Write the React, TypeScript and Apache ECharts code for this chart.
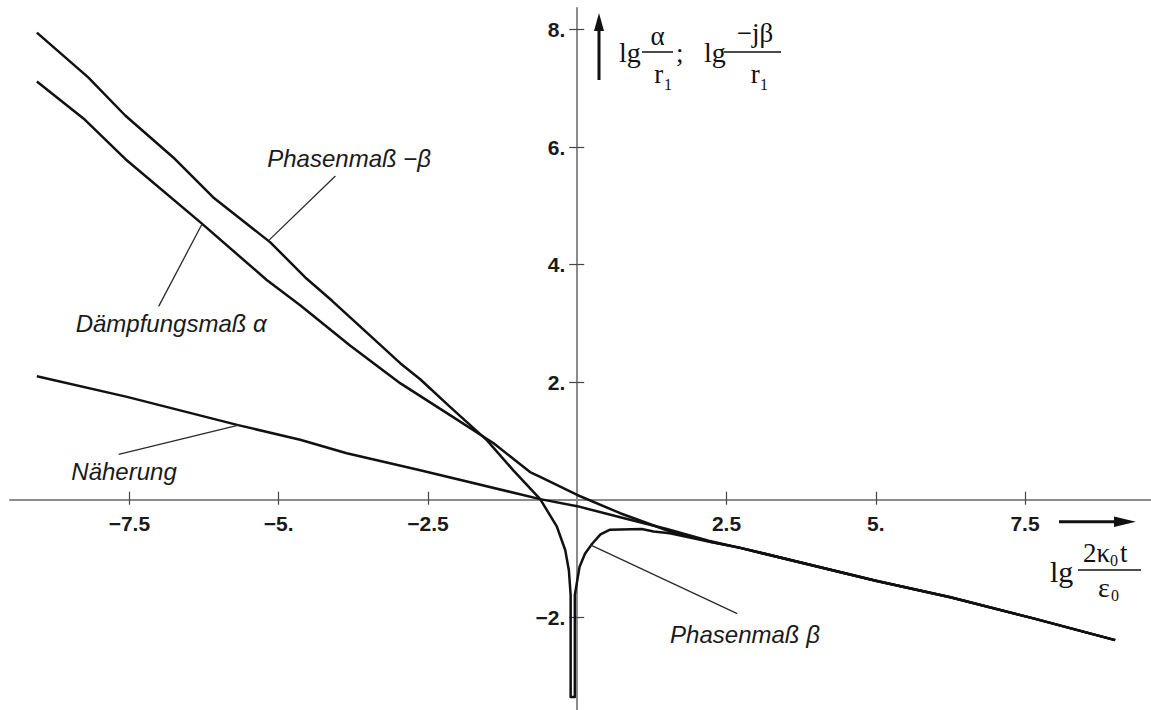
import React, { useEffect, useRef } from "react";
import * as echarts from "echarts";

// ---- axis ranges and ticks ----
const X_MIN = -9.5;
const X_MAX = 9.61;
const Y_MIN = -3.58;
const Y_MAX = 8.37;
const xTickValues = [-7.5, -5, -2.5, 2.5, 5, 7.5];
const xTickLabels = ["\u22127.5", "\u22125.", "\u22122.5", "2.5", "5.", "7.5"];
const yTickValues = [-2, 2, 4, 6, 8];
const yTickLabels = ["\u22122.", "2.", "4.", "6.", "8."];

// ---- series (x = lg(2κ0 t/ε0), y = lg(.../r1)) ----
const phasenmass: [number, number][] = [
  [-9.05, 7.95], [-8.19, 7.19], [-7.57, 6.54], [-6.77, 5.83], [-6.1, 5.15],
  [-5.14, 4.38], [-4.53, 3.76], [-4.11, 3.39], [-2.96, 2.32], [-2.63, 2.05],
  [-2.13, 1.58], [-1.51, 1.01], [-1.07, 0.5], [-0.62, 0.01], [-0.34, -0.46],
  [-0.2, -0.86], [-0.14, -1.2], [-0.11, -1.62], [-0.11, -3.36], [-0.04, -3.36],
  [-0.04, -1.62], [0.04, -1.14], [0.13, -0.92], [0.25, -0.75], [0.39, -0.59],
  [0.55, -0.51], [1.08, -0.5], [1.28, -0.54], [1.55, -0.57], [2.2, -0.71],
  [2.73, -0.82], [5.0, -1.38], [6.25, -1.66], [7.64, -2.02], [9.01, -2.39],
];
const daempfung: [number, number][] = [
  [-9.05, 7.12], [-8.27, 6.49], [-7.57, 5.8], [-6.31, 4.72], [-5.2, 3.74],
  [-4.64, 3.31], [-3.8, 2.62], [-2.96, 1.98], [-2.13, 1.44], [-1.4, 0.96],
  [-0.79, 0.47], [-0.62, 0.39], [0, 0.08], [0.72, -0.23], [1.5, -0.52],
  [2.2, -0.71], [2.73, -0.82], [5.0, -1.38], [6.25, -1.66], [7.64, -2.02],
  [9.01, -2.39],
];
const naeherung: [number, number][] = [
  [-9.05, 2.1], [-7.54, 1.75], [-5.68, 1.27], [-4.64, 1.02], [-3.86, 0.79],
  [-2.63, 0.5], [-0.62, 0.01], [0, -0.11], [0.72, -0.3], [1.5, -0.5],
  [2.2, -0.7], [2.73, -0.82], [5.0, -1.38], [6.25, -1.66], [7.64, -2.02],
  [9.01, -2.39],
];

// ---- annotations (data coordinates): label centre/baseline, leader start, leader end ----
const annotationTexts = ["Phasenmaß \u2212β", "Dämpfungsmaß α", "Näherung", "Phasenmaß β"];
const annotationLabelAt: [number, number][] = [[-3.82, 5.66], [-6.8, 2.85], [-7.59, 0.33], [2.81, -2.43]];
const annotationLeaderFrom: [number, number][] = [[-4.05, 5.51], [-7.01, 3.29], [-7.68, 0.77], [2.68, -1.94]];
const annotationLeaderTo: [number, number][] = [[-5.17, 4.41], [-6.29, 4.68], [-5.67, 1.27], [0.22, -0.77]];

const SANS = "'Liberation Sans', Arial, sans-serif";
const SERIF = "'Liberation Serif', 'Times New Roman', serif";

const GRID_LEFT = 10;
const GRID_TOP = 8;
const GRID_W = 1141;
const GRID_H = 702;

function txt(text: string, x: number, base: number, size: number, family: string, opts: any = {}) {
  const c = family === SERIF ? 0.3375 : 0.3465;
  return {
    type: "text",
    x,
    y: base - c * size,
    silent: true,
    z: 10,
    style: {
      text,
      fontSize: size,
      fontFamily: family,
      fontStyle: opts.italic ? "italic" : "normal",
      fontWeight: opts.bold ? "bold" : "normal",
      fill: opts.fill || "#111",
      align: opts.align || "left",
      verticalAlign: "middle",
    },
  };
}
function seg(x1: number, y1: number, x2: number, y2: number, w: number, color = "#111") {
  return { type: "line", silent: true, z: 10, shape: { x1, y1, x2, y2 }, style: { stroke: color, lineWidth: w } };
}
function tri(points: number[][]) {
  return { type: "polygon", silent: true, z: 10, shape: { points }, style: { fill: "#111" } };
}

const fmt = (vals: number[], labels: string[]) => (v: number) => {
  const i = vals.findIndex((t) => Math.abs(t - v) < 1e-6);
  return i >= 0 ? labels[i] : "";
};

export default function App() {
  const ref = useRef<HTMLDivElement>(null);
  useEffect(() => {
    if (!ref.current) return;
    const chart = echarts.init(ref.current, null, { renderer: "svg" });
    const axisLineStyle = { color: "#8c8c8c", width: 2 };
    const tickStyle = { color: "#444", width: 1.2 };
    const labelFont = { fontFamily: SANS, fontWeight: "bold" as const, fontSize: 21, color: "#1a1a1a" };
    // axes are moved onto the zero lines of each other with an offset
    const xAxisOffset = -((0 - Y_MIN) / (Y_MAX - Y_MIN)) * GRID_H;
    const yAxisOffset = -((0 - X_MIN) / (X_MAX - X_MIN)) * GRID_W;
    const lineSeries = (name: string, data: [number, number][]) => ({
      type: "line",
      name,
      data,
      showSymbol: false,
      symbol: "none",
      silent: true,
      z: 3,
      lineStyle: { color: "#111", width: 2.5, join: "round" },
    });
    chart.setOption({
      animation: false,
      backgroundColor: "#fff",
      grid: { left: GRID_LEFT, top: GRID_TOP, width: GRID_W, height: GRID_H, containLabel: false, outerBoundsMode: "none" },
      xAxis: [
        {
          type: "value", min: X_MIN, max: X_MAX, position: "bottom", offset: xAxisOffset,
          axisLine: { onZero: false, lineStyle: axisLineStyle },
          axisTick: { show: true, customValues: xTickValues, length: 5, lineStyle: tickStyle },
          axisLabel: { customValues: xTickValues, formatter: fmt(xTickValues, xTickLabels), margin: 13, ...labelFont },
          splitLine: { show: false },
        },
        {
          type: "value", min: X_MIN, max: X_MAX, position: "bottom", offset: xAxisOffset,
          axisLine: { show: false, onZero: false },
          axisTick: { show: true, inside: true, customValues: xTickValues, length: 8, lineStyle: tickStyle },
          axisLabel: { show: false },
          splitLine: { show: false },
        },
      ],
      yAxis: [
        {
          type: "value", min: Y_MIN, max: Y_MAX, position: "left", offset: yAxisOffset,
          axisLine: { onZero: false, lineStyle: axisLineStyle },
          axisTick: { show: true, customValues: yTickValues, length: 8, lineStyle: tickStyle },
          axisLabel: { customValues: yTickValues, formatter: fmt(yTickValues, yTickLabels), margin: 12, padding: [9, 0, 0, 0], ...labelFont },
          splitLine: { show: false },
        },
        {
          type: "value", min: Y_MIN, max: Y_MAX, position: "left", offset: yAxisOffset,
          axisLine: { show: false, onZero: false },
          axisTick: { show: true, inside: true, customValues: yTickValues, length: 7, lineStyle: tickStyle },
          axisLabel: { show: false },
          splitLine: { show: false },
        },
      ],
      series: [
        lineSeries("Phasenmaß", phasenmass),
        lineSeries("Dämpfungsmaß α", daempfung),
        lineSeries("Näherung", naeherung),
      ],
    });

    const toPx = (p: [number, number]) => chart.convertToPixel({ gridIndex: 0 }, p) as number[];
    const graphics: any[] = [];
    annotationTexts.forEach((t, i) => {
      const a = toPx(annotationLeaderFrom[i]);
      const b = toPx(annotationLeaderTo[i]);
      graphics.push(seg(a[0], a[1], b[0], b[1], 1.3, "#2a2a2a"));
      const l = toPx(annotationLabelAt[i]);
      graphics.push(txt(t, l[0], l[1], 24, SANS, { italic: true, align: "center", fill: "#1a1a1a" }));
    });

    // y-axis title: arrow + lg α/r1 ; lg −jβ/r1
    graphics.push(seg(599, 80, 599, 28, 3));
    graphics.push(tri([[594, 31], [604, 31], [599, 13]]));
    graphics.push(txt("lg", 619, 62, 28, SERIF));
    graphics.push(seg(642, 52, 673, 52, 1.5));
    graphics.push(txt("α", 657.5, 45, 27, SERIF, { align: "center" }));
    graphics.push(txt("r", 658.7, 83, 27, SERIF, { align: "center" }));
    graphics.push(txt("1", 668, 90, 16, SERIF, { align: "center" }));
    graphics.push(txt(";", 676, 62, 27, SERIF));
    graphics.push(txt("lg", 704, 62, 28, SERIF));
    graphics.push(seg(724, 52, 781, 52, 1.5));
    graphics.push(txt("\u2212jβ", 755, 42, 27, SERIF, { align: "center" }));
    graphics.push(txt("r", 755.3, 83, 27, SERIF, { align: "center" }));
    graphics.push(txt("1", 764, 90, 16, SERIF, { align: "center" }));

    // x-axis title: arrow + lg 2κ0 t / ε0
    graphics.push(seg(1059, 521.7, 1118, 521.7, 3));
    graphics.push(tri([[1114, 516.5], [1114, 527], [1136, 521.7]]));
    graphics.push(txt("lg", 1050, 582, 30, SERIF));
    graphics.push(seg(1078, 570, 1141, 570, 1.5));
    graphics.push(txt("2κ", 1083, 561.7, 27, SERIF));
    graphics.push(txt("0", 1110, 566, 16, SERIF));
    graphics.push(txt("t", 1120, 561.7, 27, SERIF));
    graphics.push(txt("ε", 1098, 597, 28, SERIF));
    graphics.push(txt("0", 1111, 601, 16, SERIF));

    chart.setOption({ graphic: graphics });
    return () => chart.dispose();
  }, []);
  return (
    <div
      ref={ref}
      style={{ position: "absolute", left: 0, top: 0, width: 1151, height: 710, background: "#fff" }}
    />
  );
}
